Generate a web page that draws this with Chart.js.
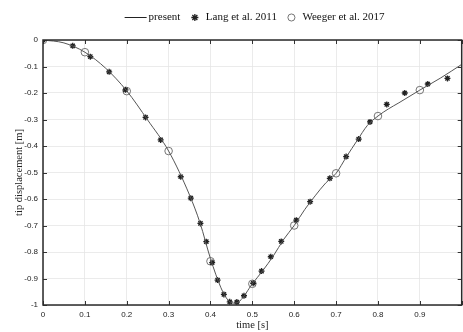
<!DOCTYPE html>
<html>
<head>
<meta charset="utf-8">
<script src="https://cdn.jsdelivr.net/npm/chart.js@4/dist/chart.umd.min.js"></script>
<style>
  html, body { margin: 0; padding: 0; background: #fff; overflow: hidden; }
  #wrap { width: 463px; height: 332px; overflow: hidden; }
</style>
</head>
<body>
<div id="wrap"><canvas id="chart" width="467" height="332"></canvas></div>
<script>
// present solution (solid line)
const timePresent = [0, 0.05, 0.1, 0.15, 0.2, 0.25, 0.3, 0.35, 0.375, 0.4, 0.425, 0.44, 0.455, 0.47, 0.5,
  0.525, 0.55, 0.575, 0.6, 0.625, 0.65, 0.675, 0.7, 0.725, 0.75, 0.775, 0.8, 0.825, 0.85, 0.9, 0.95, 1.0];
const dispPresent = [0, -0.011, -0.046, -0.107, -0.192, -0.302, -0.419, -0.585, -0.69, -0.825, -0.935, -0.978, -0.993, -0.985, -0.92,
  -0.87, -0.815, -0.752, -0.70, -0.64, -0.588, -0.54, -0.503, -0.44, -0.38, -0.322, -0.287, -0.26, -0.237, -0.189, -0.143, -0.092];

// Lang et al. 2011 (asterisks)
const timeLang = [0, 0.071, 0.113, 0.158, 0.197, 0.245, 0.281, 0.329, 0.353, 0.376, 0.39, 0.404, 0.417, 0.432, 0.446, 0.463,
  0.48, 0.502, 0.522, 0.544, 0.569, 0.605, 0.638, 0.685, 0.724, 0.754, 0.781, 0.821, 0.864, 0.919, 0.966];
const dispLang = [0, -0.022, -0.063, -0.12, -0.188, -0.292, -0.377, -0.516, -0.597, -0.692, -0.761, -0.840, -0.906, -0.96, -0.988, -0.989,
  -0.965, -0.918, -0.872, -0.818, -0.760, -0.68, -0.61, -0.522, -0.44, -0.374, -0.309, -0.243, -0.2, -0.166, -0.145];

// Weeger et al. 2017 (circles)
const timeWeeger = [0, 0.1, 0.2, 0.3, 0.4, 0.5, 0.6, 0.7, 0.8, 0.9];
const dispWeeger = [0, -0.046, -0.193, -0.419, -0.835, -0.92, -0.70, -0.503, -0.287, -0.189];

const toXY = (xs, ys) => xs.map((x, i) => ({ x: x, y: ys[i] }));

const serif = '"Liberation Serif", "DejaVu Serif", serif';
const sans = '"Liberation Sans", Arial, sans-serif';

// legend sample for the line: a long dash, shifted left of the label box
const lineSample = document.createElement('canvas');
lineSample.width = 42;
lineSample.height = 3;
(function() {
  const c = lineSample.getContext('2d');
  c.strokeStyle = '#222';
  c.lineWidth = 1;
  c.beginPath();
  c.moveTo(8, 1.5);
  c.lineTo(30, 1.5);
  c.stroke();
})();

// box with inward tick marks, like the matlab axes
const boxTicks = {
  id: 'boxTicks',
  afterLayout(chart) {
    // the dash sticks out left of the legend box, push the row back to centre
    chart.legend.left += 6;
    chart.legend.right += 6;
  },
  afterDraw(chart) {
    const { ctx, chartArea: a, scales } = chart;
    const len = 4;
    ctx.save();
    ctx.strokeStyle = '#333';
    ctx.lineWidth = 1;
    ctx.beginPath();
    scales.x.ticks.forEach(t => {
      const px = Math.round(scales.x.getPixelForValue(t.value)) + 0.5;
      ctx.moveTo(px, a.bottom); ctx.lineTo(px, a.bottom - len);
      ctx.moveTo(px, a.top); ctx.lineTo(px, a.top + len);
    });
    scales.y.ticks.forEach(t => {
      const py = Math.round(scales.y.getPixelForValue(t.value)) + 0.5;
      ctx.moveTo(a.left, py); ctx.lineTo(a.left + len, py);
      ctx.moveTo(a.right, py); ctx.lineTo(a.right - len, py);
    });
    ctx.stroke();
    ctx.lineWidth = 1.5;
    ctx.strokeStyle = '#2a2a2a';
    ctx.strokeRect(a.left, a.top, a.right - a.left, a.bottom - a.top);
    ctx.restore();
  }
};

new Chart(document.getElementById('chart'), {
  type: 'scatter',
  data: {
    datasets: [
      {
        label: 'present',
        type: 'line',
        data: toXY(timePresent, dispPresent),
        borderColor: '#555',
        backgroundColor: '#555',
        borderWidth: 1,
        pointRadius: 0,
        pointStyle: lineSample,
        cubicInterpolationMode: 'monotone'
      },
      {
        label: 'Lang et al. 2011',
        data: toXY(timeLang, dispLang),
        pointStyle: 'star',
        pointRadius: 3,
        borderWidth: 1.3,
        borderColor: '#222',
        backgroundColor: '#222'
      },
      {
        label: 'Weeger et al. 2017',
        data: toXY(timeWeeger, dispWeeger),
        pointStyle: 'circle',
        pointRadius: 3.8,
        borderWidth: 0.9,
        borderColor: '#666',
        backgroundColor: 'rgba(255,255,255,0)'
      }
    ]
  },
  options: {
    responsive: false,
    animation: false,
    layout: { padding: { top: 3 } },
    plugins: {
      legend: {
        position: 'top',
        fullSize: false,
        labels: {
          usePointStyle: true,
          boxHeight: 5,
          padding: 9,
          color: '#111',
          font: { family: serif, size: 11 }
        }
      },
      tooltip: { enabled: false }
    },
    scales: {
      x: {
        type: 'linear',
        min: 0,
        max: 1,
        afterFit: s => { s.height = 27; },
        border: { display: false },
        grid: { color: '#e6e6e6', lineWidth: 0.8, drawTicks: false },
        ticks: {
          stepSize: 0.1,
          padding: 5,
          color: '#222',
          font: { family: sans, size: 8 },
          callback: v => (v >= 1 ? '' : String(Math.round(v * 10) / 10))
        },
        title: {
          display: true,
          text: 'time [s]',
          color: '#222',
          font: { family: serif, size: 10.5 },
          padding: { top: 0, bottom: 0 }
        }
      },
      xTop: {
        type: 'linear',
        position: 'top',
        min: 0,
        max: 1,
        afterFit: s => { s.height = 7; },
        border: { display: false },
        grid: { display: false },
        ticks: { display: false }
      },
      y: {
        min: -1,
        max: 0,
        afterFit: s => { s.width = 43; },
        border: { display: false },
        grid: { color: '#e6e6e6', lineWidth: 0.8, drawTicks: false },
        ticks: {
          stepSize: 0.1,
          padding: 5,
          color: '#222',
          font: { family: sans, size: 8 },
          callback: v => String(Math.round(v * 10) / 10)
        },
        title: {
          display: true,
          text: 'tip displacement [m]',
          color: '#222',
          font: { family: serif, size: 10.5 },
          padding: { top: 13, bottom: 0 }
        }
      }
    }
  },
  plugins: [boxTicks]
});
</script>
</body>
</html>
